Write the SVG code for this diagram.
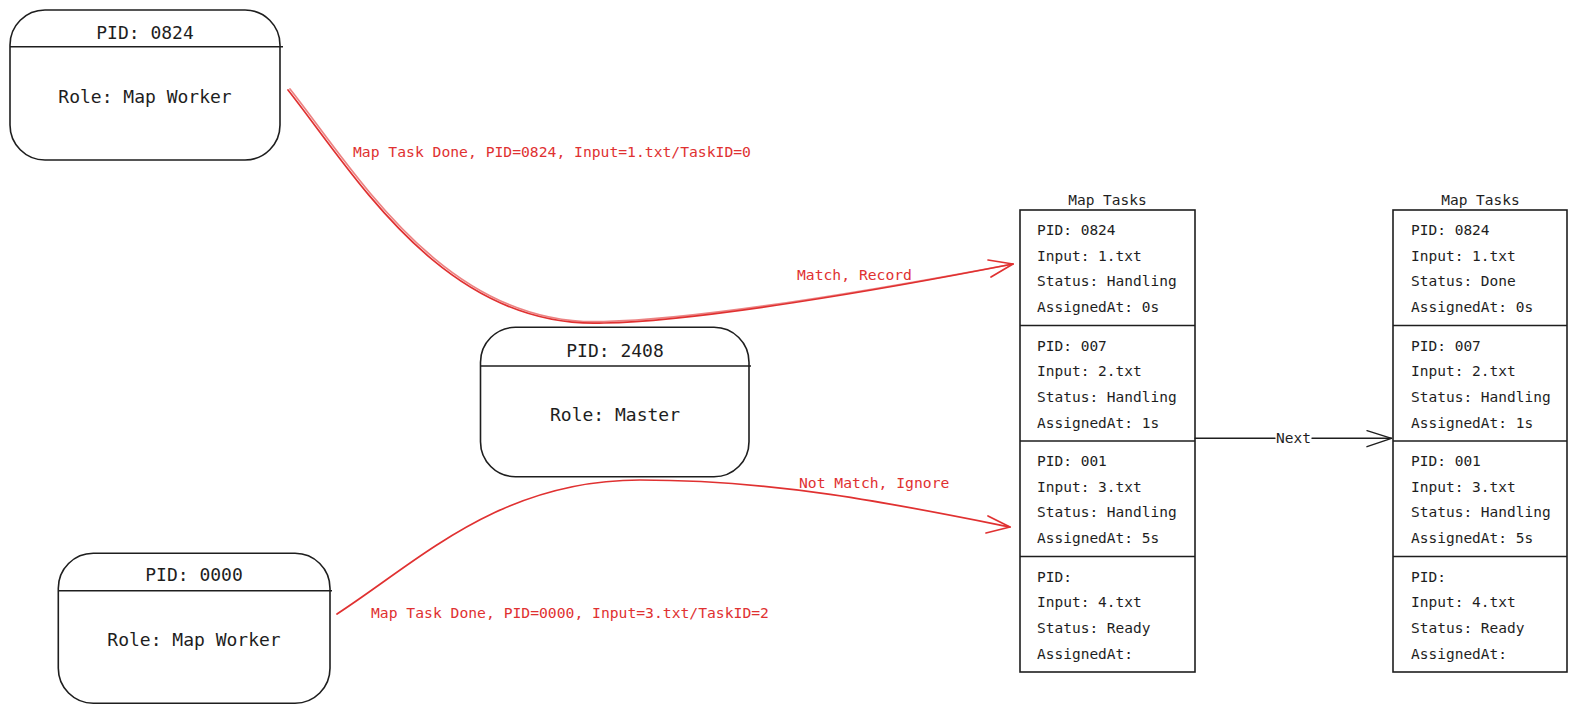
<svg xmlns="http://www.w3.org/2000/svg" width="1578" height="712" viewBox="0 0 1578 712">
<style>
  .box { fill: #ffffff; stroke: #1e1e1e; stroke-width: 1.6; }
  .line { fill: none; stroke: #1e1e1e; stroke-width: 1.6; }
  .title { font-family: "DejaVu Sans Mono", "Liberation Mono", monospace; font-size: 18px; fill: #1e1e1e; text-anchor: middle; }
  .cell { font-family: "DejaVu Sans Mono", "Liberation Mono", monospace; font-size: 14.5px; fill: #1e1e1e; }
  .head { font-family: "DejaVu Sans Mono", "Liberation Mono", monospace; font-size: 14.5px; fill: #1e1e1e; text-anchor: middle; }
  .red { fill: none; stroke: #e03131; stroke-width: 1.7; stroke-linecap: round; stroke-linejoin: round; }
  .rlabel { font-family: "DejaVu Sans Mono", "Liberation Mono", monospace; font-size: 14.7px; fill: #e03131; }
  .blk { fill: none; stroke: #1e1e1e; stroke-width: 1.4; stroke-linecap: round; stroke-linejoin: round; }
</style>

<g id="node-worker-0824">
  <rect class="box" x="10" y="10" width="270" height="150" rx="35" ry="35"/>
  <line class="line" x1="10" y1="46.7" x2="283" y2="46.7"/>
  <text class="title" x="145" y="39">PID: 0824</text>
  <text class="title" x="145" y="103">Role: Map Worker</text>
</g>

<g id="node-master-2408">
  <rect class="box" x="480.5" y="327.3" width="268.5" height="149.4" rx="35" ry="35"/>
  <line class="line" x1="480.5" y1="366" x2="751" y2="366"/>
  <text class="title" x="615" y="356.5">PID: 2408</text>
  <text class="title" x="615" y="421">Role: Master</text>
</g>

<g id="node-worker-0000">
  <rect class="box" x="58.3" y="553.3" width="271.7" height="150" rx="35" ry="35"/>
  <line class="line" x1="58.3" y1="590.7" x2="332" y2="590.7"/>
  <text class="title" x="194" y="580.5">PID: 0000</text>
  <text class="title" x="194" y="646">Role: Map Worker</text>
</g>

<g id="table-map-tasks-before">
  <text class="head" x="1107.5" y="205">Map Tasks</text>
  <rect class="box" x="1020" y="210" width="175" height="462"/>
  <line class="line" x1="1020" y1="325.5" x2="1195" y2="325.5"/>
  <line class="line" x1="1020" y1="441" x2="1195" y2="441"/>
  <line class="line" x1="1020" y1="556.5" x2="1195" y2="556.5"/>
  <text class="cell" x="1037" y="235">PID: 0824</text>
  <text class="cell" x="1037" y="260.7">Input: 1.txt</text>
  <text class="cell" x="1037" y="286.4">Status: Handling</text>
  <text class="cell" x="1037" y="312.1">AssignedAt: 0s</text>
  <text class="cell" x="1037" y="350.5">PID: 007</text>
  <text class="cell" x="1037" y="376.2">Input: 2.txt</text>
  <text class="cell" x="1037" y="401.9">Status: Handling</text>
  <text class="cell" x="1037" y="427.6">AssignedAt: 1s</text>
  <text class="cell" x="1037" y="466">PID: 001</text>
  <text class="cell" x="1037" y="491.7">Input: 3.txt</text>
  <text class="cell" x="1037" y="517.4">Status: Handling</text>
  <text class="cell" x="1037" y="543.1">AssignedAt: 5s</text>
  <text class="cell" x="1037" y="581.5">PID:</text>
  <text class="cell" x="1037" y="607.2">Input: 4.txt</text>
  <text class="cell" x="1037" y="632.9">Status: Ready</text>
  <text class="cell" x="1037" y="658.6">AssignedAt:</text>
</g>

<g id="table-map-tasks-after">
  <text class="head" x="1480.5" y="205">Map Tasks</text>
  <rect class="box" x="1393" y="210" width="174" height="462"/>
  <line class="line" x1="1393" y1="325.5" x2="1567" y2="325.5"/>
  <line class="line" x1="1393" y1="441" x2="1567" y2="441"/>
  <line class="line" x1="1393" y1="556.5" x2="1567" y2="556.5"/>
  <text class="cell" x="1411" y="235">PID: 0824</text>
  <text class="cell" x="1411" y="260.7">Input: 1.txt</text>
  <text class="cell" x="1411" y="286.4">Status: Done</text>
  <text class="cell" x="1411" y="312.1">AssignedAt: 0s</text>
  <text class="cell" x="1411" y="350.5">PID: 007</text>
  <text class="cell" x="1411" y="376.2">Input: 2.txt</text>
  <text class="cell" x="1411" y="401.9">Status: Handling</text>
  <text class="cell" x="1411" y="427.6">AssignedAt: 1s</text>
  <text class="cell" x="1411" y="466">PID: 001</text>
  <text class="cell" x="1411" y="491.7">Input: 3.txt</text>
  <text class="cell" x="1411" y="517.4">Status: Handling</text>
  <text class="cell" x="1411" y="543.1">AssignedAt: 5s</text>
  <text class="cell" x="1411" y="581.5">PID:</text>
  <text class="cell" x="1411" y="607.2">Input: 4.txt</text>
  <text class="cell" x="1411" y="632.9">Status: Ready</text>
  <text class="cell" x="1411" y="658.6">AssignedAt:</text>
</g>

<g id="connectors">
  <!-- worker 0824 -> table (match) -->
  <path class="red" d="M 288 90 C 355 175, 445 330, 604 323 C 700 321, 880 290, 1013 264"/>
  <path class="red" stroke-width="0.8" opacity="0.6" d="M 290 89 C 357 174, 447 328, 604 321.5 C 700 319.5, 880 289, 1013 264"/>
  <path class="red" d="M 988 260 L 1013 264 L 991 277"/>
  <text class="rlabel" x="353" y="157">Map Task Done, PID=0824, Input=1.txt/TaskID=0</text>
  <text class="rlabel" x="797" y="280">Match, Record</text>

  <!-- worker 0000 -> table (not match) -->
  <path class="red" d="M 337 614 C 420 560, 500 480, 640 480 C 780 480, 900 505, 1010 527"/>
  <path class="red" d="M 988 516 L 1010 527 L 986 533"/>
  <text class="rlabel" x="799" y="488">Not Match, Ignore</text>
  <text class="rlabel" x="371" y="618">Map Task Done, PID=0000, Input=3.txt/TaskID=2</text>

  <!-- Next -->
  <path class="blk" d="M 1195 438.3 L 1275 438.3 M 1312 438.3 L 1391.5 438.3"/>
  <path class="blk" d="M 1367 430.7 L 1391.5 438.3 L 1367 446.7"/>
  <text class="head" x="1293.5" y="443">Next</text>
</g>
</svg>
